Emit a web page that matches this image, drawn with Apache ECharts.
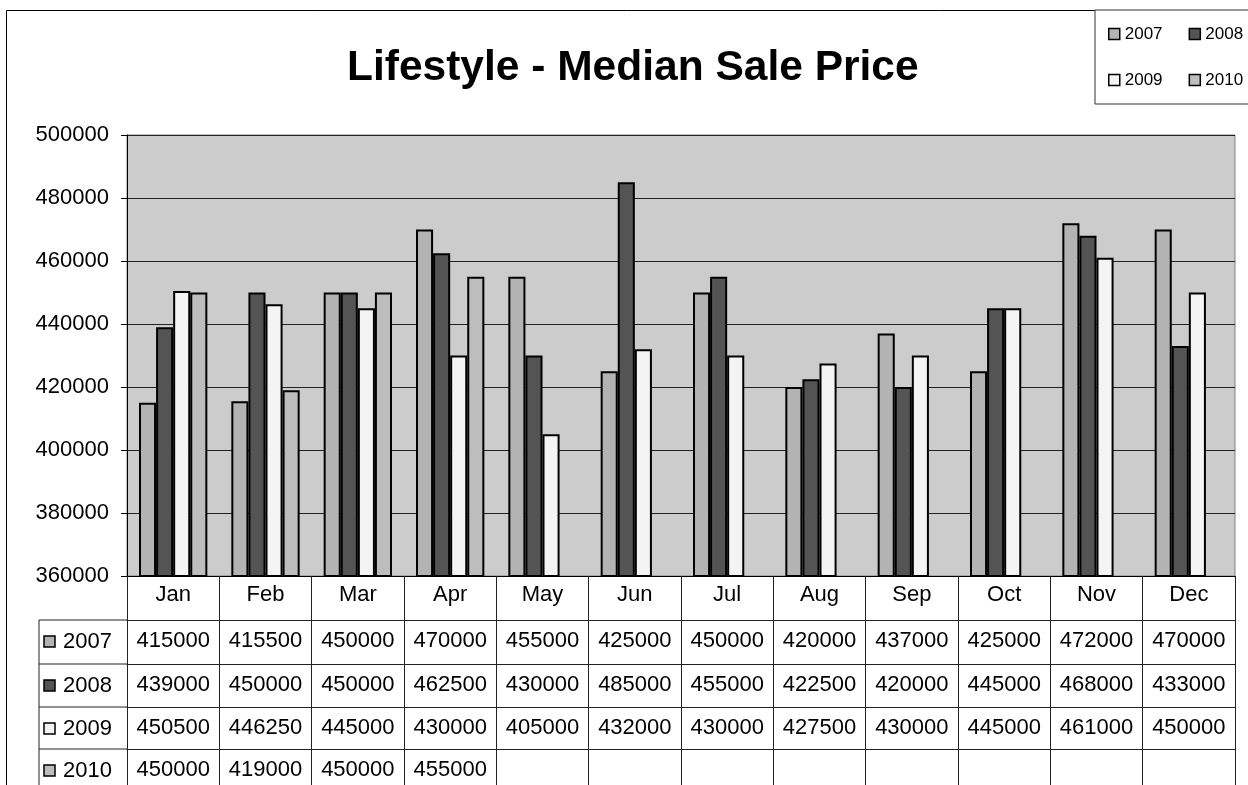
<!DOCTYPE html>
<html>
<head>
<meta charset="utf-8">
<script src="https://cdn.jsdelivr.net/npm/echarts@6/dist/echarts.min.js"></script>
<style>
  html, body { margin: 0; padding: 0; background: #fff; }
  #main { width: 1248px; height: 785px; }
</style>
</head>
<body>
<div id="main"></div>
<script>
var months = ['Jan', 'Feb', 'Mar', 'Apr', 'May', 'Jun', 'Jul', 'Aug', 'Sep', 'Oct', 'Nov', 'Dec'];
var years = ['2007', '2008', '2009', '2010'];
var v2007 = [415000, 415500, 450000, 470000, 455000, 425000, 450000, 420000, 437000, 425000, 472000, 470000];
var v2008 = [439000, 450000, 450000, 462500, 430000, 485000, 455000, 422500, 420000, 445000, 468000, 433000];
var v2009 = [450500, 446250, 445000, 430000, 405000, 432000, 430000, 427500, 430000, 445000, 461000, 450000];
var v2010 = [450000, 419000, 450000, 455000, null, null, null, null, null, null, null, null];
var yTicks = [360000, 380000, 400000, 420000, 440000, 460000, 480000, 500000];

var values = [v2007, v2008, v2009, v2010];
var colors = ['#b3b3b3', '#545454', '#f4f4f4', '#bdbdbd'];
var font = "'Liberation Sans', Arial, sans-serif";

// table geometry (row offsets below the plot)
var gridBottom = 209;
var rowOffsets = [0, 44, 88, 131, 173];
var rowH = 43;

var chart = echarts.init(document.getElementById('main'));

var xAxes = [{
    type: 'category',
    data: months,
    gridIndex: 0,
    position: 'bottom',
    axisLine: { lineStyle: { color: '#000', width: 1 } },
    axisTick: { show: true, length: rowOffsets[1], interval: 0, lineStyle: { color: '#222' } },
    axisLabel: { color: '#000', fontSize: 22, fontFamily: font, margin: 8, lineHeight: 22, interval: 0 }
}];
values.forEach(function (row, k) {
    xAxes.push({
        type: 'category',
        data: months,
        gridIndex: 0,
        position: 'bottom',
        offset: rowOffsets[k + 1],
        axisLine: { lineStyle: { color: '#222', width: 1 } },
        axisTick: { show: true, length: rowH + 2, interval: 0, lineStyle: { color: '#222' } },
        axisLabel: {
            color: '#000', fontSize: 22, fontFamily: font, margin: 10, lineHeight: 22, interval: 0,
            formatter: function (v, i) { return row[i] == null ? '' : String(row[i]); }
        }
    });
});

// left header column of the data table
var tableGraphics = [];
var top0 = 785 - gridBottom;
years.forEach(function (y, k) {
    var yTop = top0 + rowOffsets[k + 1];
    tableGraphics.push({
        type: 'line', shape: { x1: 39, y1: yTop, x2: 127, y2: yTop },
        style: { stroke: '#222', lineWidth: 1 }
    });
    tableGraphics.push({
        type: 'rect', shape: { x: 44, y: yTop + 16, width: 11, height: 11 },
        style: { fill: colors[k], stroke: '#000', lineWidth: 1.5 }
    });
    tableGraphics.push({
        type: 'text', x: 63, y: yTop + 22,
        style: { text: y, fill: '#000', font: '22px ' + font, textVerticalAlign: 'middle' }
    });
});
tableGraphics.push({
    type: 'line', shape: { x1: 39, y1: top0 + rowOffsets[1], x2: 39, y2: 800 },
    style: { stroke: '#222', lineWidth: 1 }
});
// outer chart border
tableGraphics.push({
    type: 'rect', shape: { x: 6.5, y: 10.5, width: 1400, height: 900 },
    style: { fill: 'none', stroke: '#000', lineWidth: 1 }
});

var option = {
    backgroundColor: '#fff',
    animation: false,
    textStyle: { fontFamily: font },
    title: {
        text: 'Lifestyle - Median Sale Price',
        left: 347,
        top: 47,
        padding: 0,
        textStyle: { fontSize: 42.5, fontWeight: 'bold', color: '#000', fontFamily: font }
    },
    legend: {
        data: years,
        left: 1095,
        top: 10,
        width: 180,
        padding: [14, 13, 14, 13],
        itemGap: 26,
        itemWidth: 11,
        itemHeight: 11,
        icon: 'rect',
        backgroundColor: '#fff',
        borderColor: '#333',
        borderWidth: 1,
        itemStyle: { borderWidth: 1.5, borderColor: '#000' },
        textStyle: { fontSize: 17, color: '#000', fontFamily: font, lineHeight: 20 }
    },
    grid: {
        left: 127, right: 13, top: 135, bottom: gridBottom,
        show: true,
        backgroundColor: '#cccccc',
        borderColor: '#808080',
        borderWidth: 1
    },
    xAxis: xAxes,
    yAxis: {
        type: 'value',
        min: yTicks[0],
        max: yTicks[yTicks.length - 1],
        interval: 20000,
        axisLine: { show: true, lineStyle: { color: '#000' } },
        axisTick: { show: true, length: 6, lineStyle: { color: '#000' } },
        axisLabel: {
            color: '#000', fontSize: 22, fontFamily: font, margin: 18,
            formatter: function (v) { return String(v); }
        },
        splitLine: { lineStyle: { color: '#222', width: 1 } }
    },
    graphic: tableGraphics,
    series: years.map(function (y, k) {
        return {
            name: y,
            type: 'bar',
            xAxisIndex: 0,
            data: values[k],
            barGap: 0,
            barCategoryGap: '26%',
            itemStyle: { color: colors[k], borderColor: '#000', borderWidth: 2 }
        };
    })
};

chart.setOption(option);
</script>
</body>
</html>
